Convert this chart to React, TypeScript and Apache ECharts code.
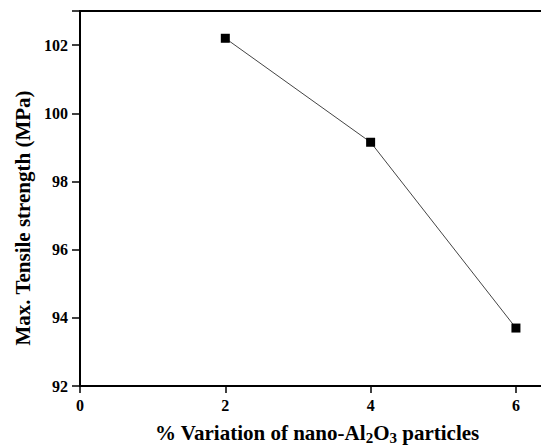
import React, { useEffect, useRef } from "react";
import * as echarts from "echarts";

const xValues = [2, 4, 6];
const tensile = [102.2, 99.15, 93.7];
const yTicks = [92, 94, 96, 98, 100, 102];
const xTicks = [0, 2, 4, 6];
const xTitle = "% Variation of nano-Al{sub|2}O{sub|3} particles";
const yTitle = "Max. Tensile strength (MPa)";

export default function App() {
  const ref = useRef<HTMLDivElement>(null);
  useEffect(() => {
    const chart = echarts.init(ref.current!, undefined, { renderer: "svg" });
    const font = "Liberation Serif";
    const tickRich = { t: { fontFamily: font, fontWeight: "bold", fontSize: 16, color: "#000" } };
    chart.setOption({
      animation: false,
      backgroundColor: "#fff",
      textStyle: { fontFamily: font },
      grid: {
        left: 80, top: 11, width: 465, height: 375,
        containLabel: false, outerBoundsMode: "none",
        show: true, borderColor: "#000", borderWidth: 2, backgroundColor: "transparent",
      },
      xAxis: {
        type: "value",
        min: 0,
        max: 6.4,
        interval: 2,
        axisLine: { lineStyle: { color: "#000", width: 1.5 } },
        axisTick: { show: true, length: 7, lineStyle: { color: "#000", width: 1.5 } },
        splitLine: { show: false },
        axisLabel: {
          color: "#000", fontFamily: font, fontWeight: "bold", fontSize: 16, margin: 11,
          formatter: (v: number) => (xTicks.includes(v) ? `{t|${v}}` : ""),
          rich: tickRich,
        },
      },
      yAxis: {
        type: "value",
        min: 92,
        max: 103,
        interval: 2,
        axisLine: { show: true, lineStyle: { color: "#000", width: 1.5 } },
        axisTick: { show: true, length: 8, lineStyle: { color: "#000", width: 1.5 } },
        splitLine: { show: false },
        axisLabel: {
          color: "#000", fontFamily: font, fontWeight: "bold", fontSize: 16, margin: 12,
          formatter: (v: number) => (yTicks.includes(v) ? `{t|${v}}` : ""),
          rich: tickRich,
        },
      },
      graphic: [
        {
          type: "text",
          x: 317,
          y: 433,
          style: {
            text: xTitle,
            fill: "#000",
            fontFamily: font,
            fontWeight: "bold",
            fontSize: 21,
            align: "center",
            verticalAlign: "middle",
            rich: {
              sub: { fontFamily: font, fontWeight: "bold", fontSize: 15, fill: "#000", verticalAlign: "top", padding: [10, 0, 0, 0] },
            },
          },
        },
        {
          type: "text",
          x: 23,
          y: 218,
          rotation: Math.PI / 2,
          style: {
            text: yTitle,
            fill: "#000",
            fontFamily: font,
            fontWeight: "bold",
            fontSize: 21,
            align: "center",
            verticalAlign: "middle",
          },
        },
      ],
      series: [
        {
          type: "line",
          data: xValues.map((x, i) => [x, tensile[i]]),
          symbol: "rect",
          symbolSize: 9,
          itemStyle: { color: "#000" },
          lineStyle: { color: "#444", width: 1 },
        },
      ],
    });
    return () => chart.dispose();
  }, []);
  return <div ref={ref} style={{ width: 541, height: 448, position: "absolute", left: 0, top: 0 }} />;
}
